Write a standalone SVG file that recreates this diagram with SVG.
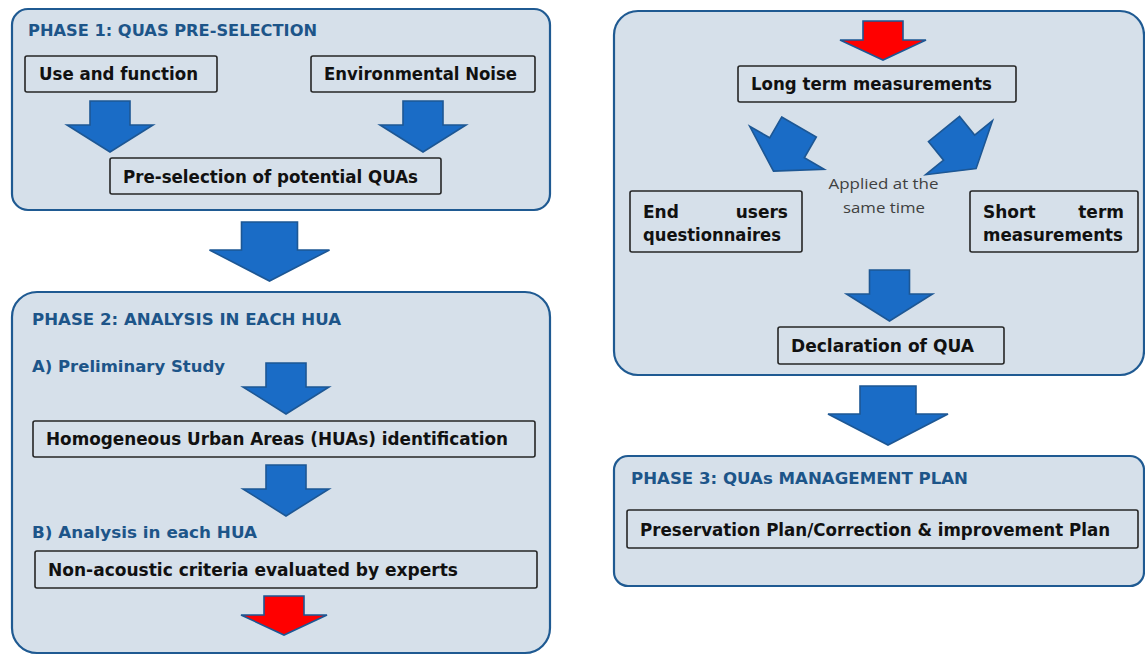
<svg xmlns="http://www.w3.org/2000/svg" width="1145" height="655" viewBox="0 0 1145 655">
<style>
.panel{fill:#d6e0ea;stroke:#1f5a92;stroke-width:2.2}
.box{fill:none;stroke:#262626;stroke-width:1.6}
.title{font-family:"DejaVu Sans",sans-serif;font-weight:bold;font-size:16.5px;fill:#1d5589}
.lbl{font-family:"DejaVu Sans",sans-serif;font-weight:bold;font-size:17px;fill:#111}
.note{font-family:"Open Sans",sans-serif;font-size:15px;fill:#404040}
.ab{fill:#1a6cc6;stroke:#1d5794;stroke-width:1.6;stroke-linejoin:miter}
.ar{fill:#ff0000;stroke:#1d5794;stroke-width:1.6}
</style>
<defs>
<path id="sa" d="M-20,0 H20 V24 H43 L0,51 L-43,24 H-20 Z"/>
<path id="ba" d="M-28,0 H28 V28 H60 L0,59 L-60,28 H-28 Z"/>
<path id="ra" d="M-20,0 H20 V19 H43 L0,39 L-43,19 H-20 Z"/>
</defs>

<g id="phase1">
<rect class="panel" x="12" y="9" width="538" height="201" rx="16"/>
<text class="title" x="28" y="36" textLength="289" lengthAdjust="spacingAndGlyphs">PHASE 1: QUAS PRE-SELECTION</text>
</g>
<g id="use-function">
<rect class="box" x="25" y="56" width="192" height="36" rx="2"/>
<text class="lbl" x="39" y="80" textLength="159" lengthAdjust="spacingAndGlyphs">Use and function</text>
</g>
<g id="env-noise">
<rect class="box" x="311" y="56" width="224" height="36" rx="2"/>
<text class="lbl" x="324" y="80" textLength="193" lengthAdjust="spacingAndGlyphs">Environmental Noise</text>
</g>
<g id="preselection">
<rect class="box" x="110" y="158" width="331" height="36" rx="2"/>
<text class="lbl" x="123" y="183" textLength="295" lengthAdjust="spacingAndGlyphs">Pre-selection of potential QUAs</text>
</g>

<g id="phase2">
<rect class="panel" x="12" y="292" width="538" height="361" rx="25"/>
<text class="title" x="32" y="325" textLength="309" lengthAdjust="spacingAndGlyphs">PHASE 2: ANALYSIS IN EACH HUA</text>
<text class="title" x="32" y="372" textLength="193" lengthAdjust="spacingAndGlyphs">A) Preliminary Study</text>
<text class="title" x="32" y="538" textLength="225" lengthAdjust="spacingAndGlyphs">B) Analysis in each HUA</text>
</g>
<g id="hua-identification">
<rect class="box" x="33" y="421" width="502" height="36" rx="2"/>
<text class="lbl" x="46" y="445" textLength="462" lengthAdjust="spacingAndGlyphs">Homogeneous Urban Areas (HUAs) identification</text>
</g>
<g id="non-acoustic">
<rect class="box" x="35" y="551" width="502" height="37" rx="2"/>
<text class="lbl" x="48" y="576" textLength="410" lengthAdjust="spacingAndGlyphs">Non-acoustic criteria evaluated by experts</text>
</g>

<g id="measurement-panel">
<rect class="panel" x="614" y="11" width="530" height="364" rx="24"/>
<text class="note" text-anchor="middle" x="883.5" y="189" textLength="110" lengthAdjust="spacingAndGlyphs">Applied at the</text>
<text class="note" text-anchor="middle" x="884" y="213" textLength="82" lengthAdjust="spacingAndGlyphs">same time</text>
</g>
<g id="long-term">
<rect class="box" x="738" y="66" width="278" height="36" rx="2"/>
<text class="lbl" x="751" y="90" textLength="241" lengthAdjust="spacingAndGlyphs">Long term measurements</text>
</g>
<g id="end-users">
<rect class="box" x="630" y="191" width="172" height="61" rx="2"/>
<text class="lbl" x="643" y="218">End</text>
<text class="lbl" x="788" y="218" text-anchor="end">users</text>
<text class="lbl" x="643" y="241" textLength="138" lengthAdjust="spacingAndGlyphs">questionnaires</text>
</g>
<g id="short-term">
<rect class="box" x="970" y="191" width="168" height="61" rx="2"/>
<text class="lbl" x="983" y="218">Short</text>
<text class="lbl" x="1124" y="218" text-anchor="end">term</text>
<text class="lbl" x="983" y="241" textLength="140" lengthAdjust="spacingAndGlyphs">measurements</text>
</g>
<g id="declaration">
<rect class="box" x="778" y="327" width="226" height="37" rx="2"/>
<text class="lbl" x="791" y="352" textLength="183" lengthAdjust="spacingAndGlyphs">Declaration of QUA</text>
</g>

<g id="phase3">
<rect class="panel" x="614" y="456" width="530" height="130" rx="14"/>
<text class="title" x="631" y="484" textLength="337" lengthAdjust="spacingAndGlyphs">PHASE 3: QUAs MANAGEMENT PLAN</text>
</g>
<g id="management-plan">
<rect class="box" x="627" y="510" width="511" height="38" rx="2"/>
<text class="lbl" x="640" y="536" textLength="470" lengthAdjust="spacingAndGlyphs">Preservation Plan/Correction &amp; improvement Plan</text>
</g>

<g id="connectors">
<use href="#sa" class="ab" transform="translate(110,101)"/>
<use href="#sa" class="ab" transform="translate(423,101)"/>
<use href="#ba" class="ab" transform="translate(269.5,222)"/>
<use href="#sa" class="ab" transform="translate(286,363)"/>
<use href="#sa" class="ab" transform="translate(286,465)"/>
<use href="#ra" class="ar" transform="translate(284,596)"/>
<use href="#ra" class="ar" transform="translate(883,21)"/>
<use href="#sa" class="ab" transform="translate(799,127) rotate(30)"/>
<use href="#sa" class="ab" transform="translate(944,129) rotate(-39)"/>
<use href="#sa" class="ab" transform="translate(889.5,270)"/>
<use href="#ba" class="ab" transform="translate(888,386)"/>
</g>
</svg>
